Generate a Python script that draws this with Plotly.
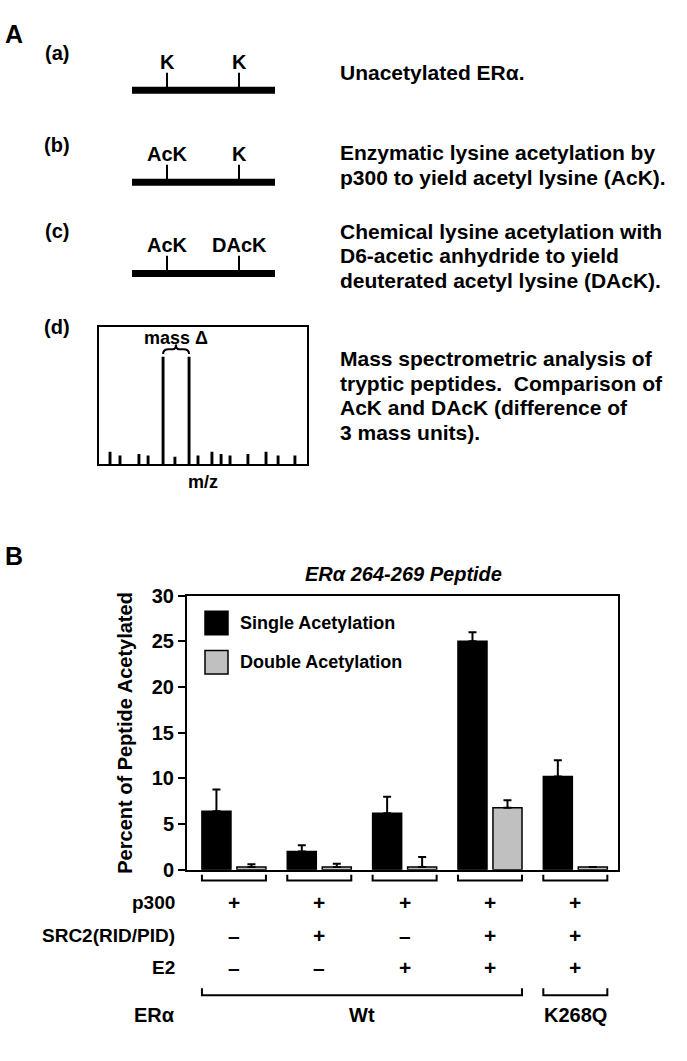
import plotly.graph_objects as go

W, H = 687, 1061
FONT = "Liberation Sans, Arial, Helvetica, sans-serif"

# ---------------- data ----------------
groups = [0, 1, 2, 3, 4]
single_vals = [6.4, 2.0, 6.2, 25.0, 10.2]
single_err = [2.4, 0.7, 1.8, 1.0, 1.8]
double_vals = [0.3, 0.3, 0.3, 6.8, 0.3]
double_err = [0.3, 0.35, 1.1, 0.8, 0.0]

p300_row = ["+", "+", "+", "+", "+"]
src2_row = ["–", "+", "–", "+", "+"]
e2_row = ["–", "–", "+", "+", "+"]
row_names = ["p300", "SRC2(RID/PID)", "E2"]
era_groups = [("Wt", 0, 3), ("K268Q", 4, 4)]

ms_mz = [5.3, 10.1, 19.2, 23.6, 30.8, 36.5, 43.3, 47.6, 54.3, 58.7, 63.0, 71.6, 80.3, 86.1, 94.2]
ms_int = [9.3, 6.4, 7.6, 6.4, 78.6, 5.5, 78.6, 6.4, 9.3, 7.6, 6.4, 7.6, 9.3, 6.4, 6.4]

panel_a_rows = [
    ("(a)", ["K", "K"]),
    ("(b)", ["AcK", "K"]),
    ("(c)", ["AcK", "DAcK"]),
]
panel_a_text = [
    ["Unacetylated ERα."],
    ["Enzymatic lysine acetylation by", "p300 to yield acetyl lysine (AcK)."],
    ["Chemical lysine acetylation with", "D6-acetic anhydride to yield",
     "deuterated acetyl lysine (DAcK)."],
    ["Mass spectrometric analysis of", "tryptic peptides.  Comparison of",
     "AcK and DAcK (difference of", "3 mass units)."],
]


def px(x):
    return x / W


def py(y):
    return 1 - y / H


def bold(size, style="normal"):
    return dict(family=FONT, size=size, color="black", weight="bold", style=style)


def label(text, x, y, size, xref="paper", yref="paper", xanchor="center",
          yanchor="middle", style="normal", angle=0):
    return dict(text=text, x=x, y=y, xref=xref, yref=yref, xanchor=xanchor,
                yanchor=yanchor, showarrow=False, textangle=angle,
                font=bold(size, style))


fig = go.Figure()

fig.add_trace(go.Bar(
    x=groups, y=single_vals, name="Single Acetylation",
    marker=dict(color="black", line=dict(color="black", width=1.5)),
    error_y=dict(type="data", array=single_err, arrayminus=[0] * 5, symmetric=False,
                 color="black", thickness=2, width=4),
    showlegend=False, xaxis="x", yaxis="y",
))
fig.add_trace(go.Bar(
    x=groups, y=double_vals, name="Double Acetylation",
    marker=dict(color="#c0c0c0", line=dict(color="black", width=1.5)),
    error_y=dict(type="data", array=double_err, arrayminus=[0] * 5, symmetric=False,
                 color="black", thickness=2, width=4),
    showlegend=False, xaxis="x", yaxis="y",
))

# mass spectrum schematic
fig.add_trace(go.Bar(
    x=ms_mz, y=ms_int, width=1.4, marker=dict(color="black", line=dict(width=0)),
    showlegend=False, xaxis="x2", yaxis="y2", hoverinfo="skip",
))

shapes = []
ann = []

# ---------- Panel A ----------
ann.append(label("A", px(3), py(23), 25, xanchor="left"))
ann.append(label("B", px(3), py(557), 25, xanchor="left"))

line_y = [81, 175, 268]
label_y = [43, 137, 225]
for (lab, ks), ly, lab_y in zip(panel_a_rows, line_y, label_y):
    ann.append(label(lab, px(57), py(lab_y), 20))
    shapes.append(dict(type="line", xref="paper", yref="paper",
                       x0=px(132), x1=px(275), y0=py(ly), y1=py(ly),
                       line=dict(color="black", width=7)))
    for kx, ktxt in zip([167, 239], ks):
        shapes.append(dict(type="line", xref="paper", yref="paper",
                           x0=px(kx), x1=px(kx), y0=py(ly - 18), y1=py(ly),
                           line=dict(color="black", width=2)))
        ann.append(label(ktxt, px(kx), py(ly - 29), 20))

ann.append(label("(d)", px(57), py(323), 20))

text_y = [[63], [145, 170], [225, 250, 275], [355, 380, 405, 430]]
for lines, ys in zip(panel_a_text, text_y):
    for t, yy in zip(lines, ys):
        ann.append(label(t, px(338), py(yy), 21, xanchor="left"))

# brace above the two peaks
shapes.append(dict(type="path", xref="x2", yref="y2",
                   path="M 30.8,80.5 Q 30.8,84 33.5,84 L 35.5,84 Q 37,84 37,87.5 "
                        "Q 37,84 38.5,84 L 40.6,84 Q 43.3,84 43.3,80.5",
                   line=dict(color="black", width=2)))
ann.append(label("mass Δ", 37, 92, 18, xref="x2", yref="y2"))
ann.append(label("m/z", 50, py(481), 18, xref="x2"))

# ---------- Panel B ----------
ann.append(label("ERα 264-269 Peptide", px(403), py(575), 20, style="italic"))
ann.append(label("Percent of Peptide Acetylated", px(125), py(737), 20, angle=-90))

# custom legend
for (y0, y1), col, name, ty in [((613, 637), "black", "Single Acetylation", 625),
                                ((653, 677), "#c0c0c0", "Double Acetylation", 665)]:
    shapes.append(dict(type="rect", xref="paper", yref="paper",
                       x0=px(205), x1=px(228), y0=py(y1), y1=py(y0),
                       fillcolor=col, line=dict(color="black", width=1.5)))
    ann.append(label(name, px(238), py(ty), 18, xanchor="left"))

# group brackets
half = 0.375
for g in groups:
    shapes.append(dict(type="path", xref="x", yref="paper",
                       path=f"M {g - half},{py(882)} L {g - half},{py(888)} "
                            f"L {g + half},{py(888)} L {g + half},{py(882)}",
                       line=dict(color="black", width=2)))

# condition table
for name, row, yy in zip(row_names, [p300_row, src2_row, e2_row], [910, 944, 977]):
    ann.append(label(name, px(177), py(yy), 19, xanchor="right"))
    for g, s in zip(groups, row):
        ann.append(label(s, g, py(yy), 21, xref="x"))

ann.append(label("ERα", px(177), py(1025), 20, xanchor="right"))
for lab, g0, g1 in era_groups:
    shapes.append(dict(type="path", xref="x", yref="paper",
                       path=f"M {g0 - half},{py(998)} L {g0 - half},{py(1005)} "
                            f"L {g1 + half},{py(1005)} L {g1 + half},{py(998)}",
                       line=dict(color="black", width=2)))
    ann.append(label(lab, (g0 + g1) / 2, py(1025), 20, xref="x"))

fig.update_layout(
    width=W, height=H,
    margin=dict(l=0, r=0, t=0, b=0),
    paper_bgcolor="white", plot_bgcolor="white",
    barmode="group", bargap=0.18, bargroupgap=0.17,
    showlegend=False,
    font=dict(family=FONT, color="black"),
    xaxis=dict(domain=[px(187), px(618)], range=[-0.55, 4.5],
               showticklabels=False, ticks="", showgrid=False, zeroline=False,
               showline=True, mirror=True, linewidth=2, linecolor="black"),
    yaxis=dict(domain=[py(877), py(597)], range=[0, 30], tickvals=[0, 5, 10, 15, 20, 25, 30],
               ticks="outside", ticklen=7, tickwidth=2, tickcolor="black",
               tickfont=bold(20), showgrid=False, zeroline=False,
               showline=True, mirror=True, linewidth=2, linecolor="black"),
    xaxis2=dict(domain=[px(99), px(307)], range=[0, 100], anchor="y2",
                showticklabels=False, ticks="", showgrid=False, zeroline=False,
                showline=True, mirror=True, linewidth=2, linecolor="black"),
    yaxis2=dict(domain=[py(463), py(323)], range=[0, 100], anchor="x2",
                showticklabels=False, ticks="", showgrid=False, zeroline=False,
                showline=True, mirror=True, linewidth=2, linecolor="black"),
    shapes=shapes,
    annotations=ann,
)

fig.write_html("out.html", config={"displayModeBar": False},
               post_script="document.body.style.margin='0';document.body.style.overflow='hidden';")
